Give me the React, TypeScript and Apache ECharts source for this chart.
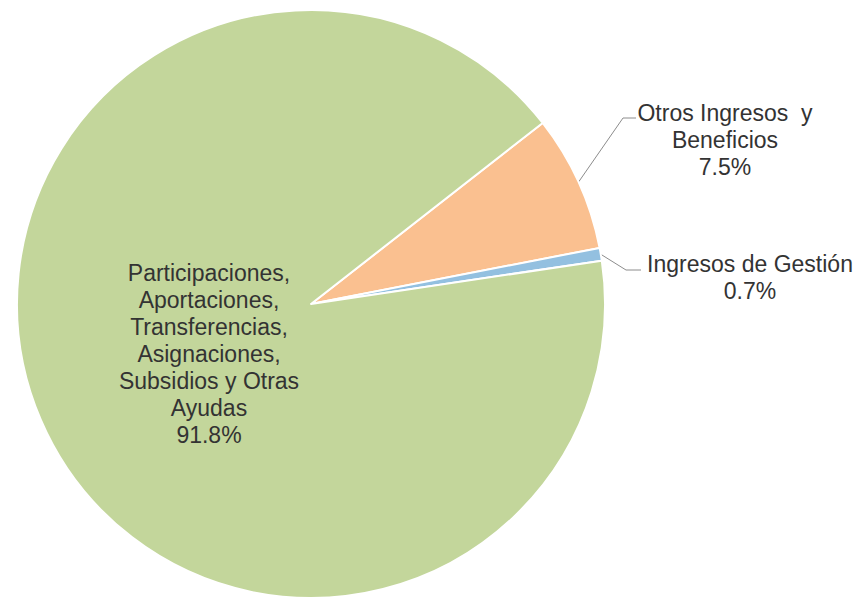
import React, { useEffect, useRef } from 'react';
import * as echarts from 'echarts';

const categories = [
  'Otros Ingresos y Beneficios',
  'Ingresos de Gestión',
  'Participaciones, Aportaciones, Transferencias, Asignaciones, Subsidios y Otras Ayudas',
];
const labelText = [
  ['Otros Ingresos  y', 'Beneficios'],
  ['Ingresos de Gestión'],
  ['Participaciones,', 'Aportaciones,', 'Transferencias,', 'Asignaciones,', 'Subsidios y Otras', 'Ayudas'],
];
const values = [7.5, 0.7, 91.8];
const colors = ['#FAC090', '#93C0E0', '#C3D69B'];

export default function App() {
  const ref = useRef<HTMLDivElement>(null);
  useEffect(() => {
    if (!ref.current) return;
    const chart = echarts.init(ref.current, undefined, { renderer: 'svg' });
    const data = categories.map((name, i) => ({
      name,
      value: values[i],
      itemStyle: { color: colors[i] },
      label: { position: i === 2 ? 'inside' : 'outside' },
      labelLine: { show: i !== 2 },
    }));
    chart.setOption({
      animation: false,
      backgroundColor: '#ffffff',
      series: [
        {
          type: 'pie',
          center: [311, 304],
          radius: [0, 294],
          startAngle: 38,
          clockwise: true,
          data,
          itemStyle: { borderColor: '#ffffff', borderWidth: 2 },
          label: {
            show: true,
            overflow: 'none',
            edgeDistance: 0,
            color: '#333333',
            fontFamily: '"Liberation Sans", Arial, sans-serif',
            fontSize: 23,
            lineHeight: 27,
            formatter: (p: any) =>
              [...labelText[p.dataIndex], p.value.toFixed(1) + '%'].join('\n'),
          },
          labelLine: {
            show: true,
            lineStyle: { color: '#8c8c8c', width: 1 },
          },
          labelLayout: (params: any) => {
            const i = params.dataIndex;
            const pts = params.labelLinePoints;
            if (i === 0) {
              return {
                x: 725,
                y: 140,
                align: 'center',
                verticalAlign: 'middle',
                labelLinePoints: pts ? [pts[0], [623, 118], [636, 118]] : undefined,
              };
            }
            if (i === 1) {
              return {
                x: 750,
                y: 277,
                align: 'center',
                verticalAlign: 'middle',
                labelLinePoints: pts ? [pts[0], [626, 270], [641, 270]] : undefined,
              };
            }
            return { x: 209, y: 354, align: 'center', verticalAlign: 'middle' };
          },
        },
      ],
    });
    return () => chart.dispose();
  }, []);
  return (
    <div
      ref={ref}
      style={{ position: 'fixed', left: 0, top: 0, width: 861, height: 603, background: '#fff' }}
    />
  );
}
